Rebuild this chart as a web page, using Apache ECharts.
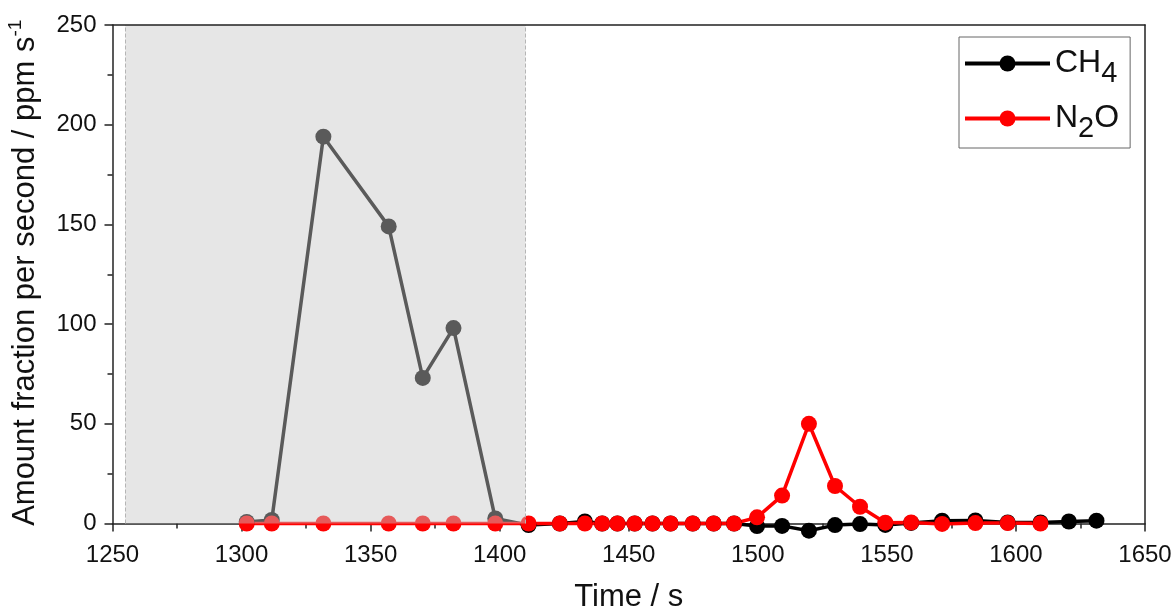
<!DOCTYPE html>
<html>
<head>
<meta charset="utf-8">
<script src="https://cdn.jsdelivr.net/npm/echarts@6/dist/echarts.min.js"></script>
<style>
html, body { margin: 0; padding: 0; background: #fff; }
#chart { width: 1174px; height: 612px; }
</style>
</head>
<body>
<div id="chart"></div>
<script>
// sample times (s), shared by both gases
var times = [1302, 1311.7, 1331.7, 1357, 1370.2, 1382.1, 1398.3, 1411.2, 1423.3, 1433, 1439.7,
    1445.6, 1452.3, 1459.2, 1466.2, 1474.8, 1482.9, 1490.8, 1499.7, 1509.4, 1519.8, 1529.9,
    1539.6, 1549.4, 1559.4, 1571.4, 1584.3, 1596.8, 1609.5, 1620.5, 1631.2];
// CH4 amount fraction per second
var ch4Values = [0.8, 1.8, 194, 149, 73, 98, 2.5, -0.8, 0, 1, 0,
    0, 0, 0, 0, 0, 0, 0, -1.3, -1.2, -3.6, -0.8,
    -0.3, -0.7, 0.3, 1.4, 1.5, 0.5, 0.5, 1, 1.4];
// N2O amount fraction per second (ends at 1609.5 s)
var n2oValues = [0, 0, 0, 0, 0, 0, 0, 0, 0, 0, 0,
    0, 0, 0, 0, 0, 0, 0, 3.1, 14, 50, 18.8,
    8.4, 0.4, 0.5, -0.2, 0.2, 0.2, 0];
// shaded interval
var shadeRange = [1255, 1410];
var xTicks = [1250, 1650, 50];
var yTicks = [0, 250, 50];

var font = 'Liberation Sans, Arial, sans-serif';

function pairs(xs, ys) {
    var out = [];
    for (var i = 0; i < ys.length; i++) {
        out.push([xs[i], ys[i]]);
    }
    return out;
}

var chart = echarts.init(document.getElementById('chart'), null, { renderer: 'canvas' });

var axisLine = { show: true, onZero: false, lineStyle: { color: '#222', width: 1.5 } };
var tickStyle = { color: '#222', width: 1.5 };

var option = {
    animation: false,
    backgroundColor: '#fff',
    textStyle: { fontFamily: font, color: '#111' },
    grid: { left: 112.5, right: 29, top: 25, bottom: 88.5, containLabel: false, outerBoundsMode: 'none' },
    legend: {
        orient: 'vertical',
        left: 959,
        top: 37,
        padding: [2, 11, 5, 4],
        itemGap: 6,
        itemWidth: 85,
        itemHeight: 20,
        borderColor: '#666',
        borderWidth: 1,
        backgroundColor: '#fff',
        lineStyle: { width: 4 },
        data: ['CH4', 'N2O'],
        formatter: function(name) {
            return name === 'CH4' ? '{m|CH}{s|4}' : '{m|N}{s|2}{m|O}';
        },
        textStyle: {
            rich: {
                m: { fontSize: 32, lineHeight: 48, fontFamily: font, color: '#111' },
                s: { fontSize: 29, lineHeight: 28, padding: [20, 0, 0, 0], fontFamily: font, color: '#111' }
            }
        }
    },
    xAxis: [{
        type: 'value',
        min: xTicks[0],
        max: xTicks[1],
        interval: xTicks[2],
        name: 'Time / s',
        nameLocation: 'middle',
        nameGap: 58,
        nameTextStyle: { fontSize: 31, fontFamily: font, color: '#111' },
        axisLine: axisLine,
        axisTick: { show: true, inside: false, length: 8, lineStyle: tickStyle },
        minorTick: { show: true, splitNumber: 2, length: 5, lineStyle: tickStyle },
        axisLabel: {
            fontSize: 24, margin: 20, color: '#111', fontFamily: font,
            formatter: function(v) { return String(v); }
        },
        splitLine: { show: false }
    }, {
        type: 'value',
        position: 'top',
        min: xTicks[0],
        max: xTicks[1],
        z: 10,
        axisLine: axisLine,
        axisTick: { show: false },
        axisLabel: { show: false },
        splitLine: { show: false }
    }],
    yAxis: [{
        type: 'value',
        min: yTicks[0],
        max: yTicks[1],
        interval: yTicks[2],
        name: '{t|Amount fraction per second / ppm s}{sup|-1}',
        nameLocation: 'middle',
        nameGap: 69,
        nameTextStyle: {
            padding: [0, 0, 0, 3],
            rich: {
                t: { fontSize: 31, lineHeight: 37, fontFamily: font, color: '#111' },
                sup: { fontSize: 19, lineHeight: 19, verticalAlign: 'top', fontFamily: font, color: '#111' }
            }
        },
        axisLine: axisLine,
        axisTick: { show: true, inside: false, length: 8, lineStyle: tickStyle },
        minorTick: { show: true, splitNumber: 2, length: 5, lineStyle: tickStyle },
        axisLabel: { fontSize: 24, margin: 16, color: '#111', fontFamily: font },
        splitLine: { show: false }
    }, {
        type: 'value',
        position: 'right',
        min: yTicks[0],
        max: yTicks[1],
        z: 10,
        axisLine: axisLine,
        axisTick: { show: false },
        axisLabel: { show: false },
        splitLine: { show: false }
    }],
    series: [{
        name: 'CH4',
        type: 'line',
        clip: false,
        symbol: 'circle',
        symbolSize: 16,
        color: '#000',
        lineStyle: { color: '#000', width: 3.5 },
        itemStyle: { color: '#000' },
        data: pairs(times, ch4Values)
    }, {
        name: 'N2O',
        type: 'line',
        clip: false,
        symbol: 'circle',
        symbolSize: 16,
        color: '#ff0000',
        lineStyle: { color: '#ff0000', width: 3.5 },
        itemStyle: { color: '#ff0000' },
        data: pairs(times, n2oValues)
    }, {
        name: 'shade',
        type: 'line',
        data: [],
        markArea: {
            silent: true,
            z: 5,
            itemStyle: { color: 'rgba(200,200,200,0.45)', borderWidth: 0 },
            data: [[{ xAxis: shadeRange[0] }, { xAxis: shadeRange[1] }]]
        },
        markLine: {
            silent: true,
            z: 5,
            symbol: ['none', 'none'],
            label: { show: false },
            lineStyle: { color: '#b5b5b5', type: 'dashed', width: 1 },
            data: [{ xAxis: shadeRange[0] }, { xAxis: shadeRange[1] }]
        }
    }]
};
chart.setOption(option);
</script>
</body>
</html>
